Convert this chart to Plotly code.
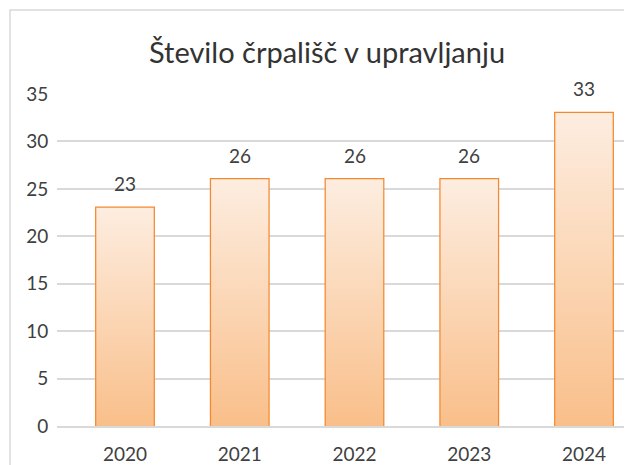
import plotly.graph_objects as go

years = ["2020", "2021", "2022", "2023", "2024"]
values = [23, 26, 26, 26, 33]
title_text = "Število črpališč v upravljanju"
y_ticks = [0, 5, 10, 15, 20, 25, 30, 35]

FONT = "Lato, Open Sans, sans-serif"
OFF = 8  # page body margin in the browser
W, H = 632 - OFF, 465 - OFF
ML, MR, MT, MB = 57 - OFF, 0, 94 - OFF, 465 - 426
PW, PH = W - ML - MR, H - MT - MB
BAR_W = 0.5
idx = list(range(len(years)))

fig = go.Figure()

# gradient fills (one polygon per bar, derived from the data)
for i, v in zip(idx, values):
    fig.add_trace(go.Scatter(
        x=[i - BAR_W / 2, i - BAR_W / 2, i + BAR_W / 2, i + BAR_W / 2, i - BAR_W / 2],
        y=[0, v, v, 0, 0],
        mode="lines", fill="toself", line=dict(width=0),
        fillgradient=dict(type="vertical", start=0, stop=v,
                          colorscale=[[0, "#F9BF8A"], [1, "#FDEDE0"]]),
        hoverinfo="skip", showlegend=False,
    ))

fig.add_trace(go.Bar(
    x=idx, y=values, width=BAR_W,
    marker=dict(color="rgba(0,0,0,0)", line=dict(color="#F5882E", width=2.5)),
    showlegend=False,
))

for i, v in zip(idx, values):
    fig.add_annotation(x=i, y=v, text=str(v), showarrow=False, yshift=24,
                       font=dict(family=FONT, size=19, color="#404040"))

fig.add_annotation(xref="paper", yref="paper", x=(327 - 57) / PW, y=(426 - 52) / PH,
                   text=title_text, showarrow=False, xanchor="center", yanchor="middle",
                   font=dict(family=FONT, size=29, color="#333333"))

fig.add_shape(type="rect", xref="paper", yref="paper",
              x0=(10 - 57) / PW, x1=1.5, y0=-0.5, y1=(426 - 10) / PH,
              line=dict(color="#D9D9D9", width=1.5), fillcolor="rgba(0,0,0,0)", layer="below")

ppu = 114.75
fig.update_layout(
    width=W, height=H, margin=dict(l=ML, r=MR, t=MT, b=MB, autoexpand=False),
    plot_bgcolor="white", paper_bgcolor="white",
    xaxis=dict(range=[-(125 - 57) / ppu, 4 + (632 - 584) / ppu], tickvals=idx, ticktext=years,
               showgrid=False, zeroline=False, showline=True, linecolor="#D9D9D9", linewidth=1.5,
               ticks="outside", ticklen=0, ticklabelstandoff=10, automargin=False,
               tickfont=dict(family=FONT, size=19, color="#404040")),
    yaxis=dict(range=[0, 35], tickvals=y_ticks, showgrid=True, gridcolor="#D9D9D9", gridwidth=1.5,
               zeroline=False, showline=False, ticks="outside", ticklen=0, ticklabelstandoff=4,
               automargin=False,
               tickfont=dict(family=FONT, size=19, color="#404040")),
    bargap=0.5,
)

fig.write_html("out.html")
